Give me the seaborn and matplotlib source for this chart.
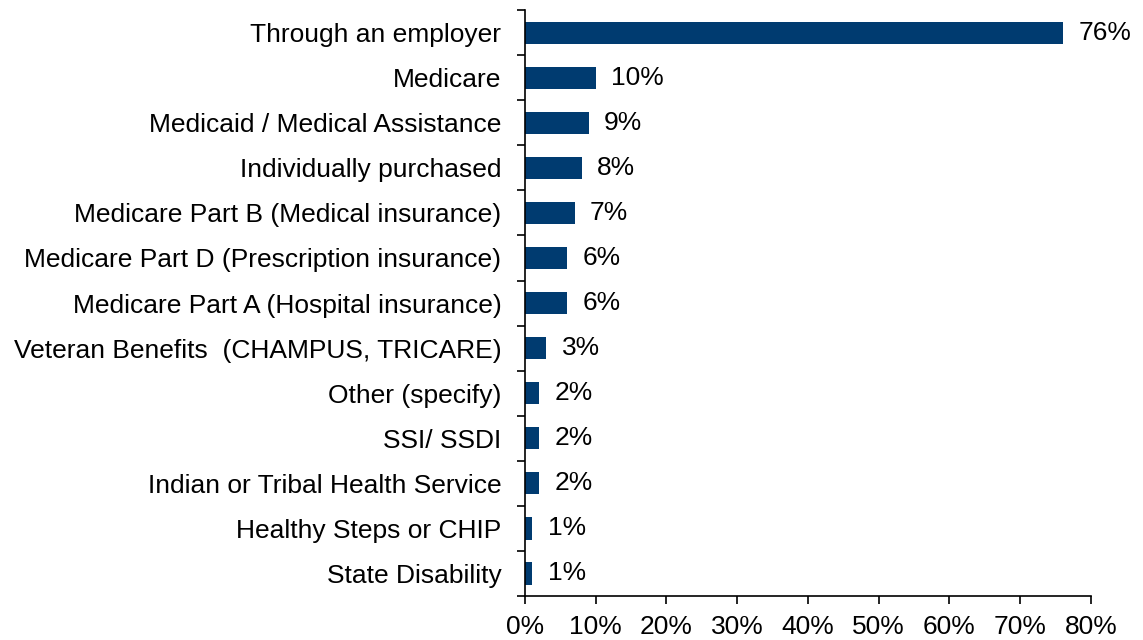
import numpy as np
import pandas as pd
import matplotlib
matplotlib.use("Agg")
import matplotlib.pyplot as plt
import seaborn as sns

categories = [
    "Through an employer",
    "Medicare",
    "Medicaid / Medical Assistance",
    "Individually purchased",
    "Medicare Part B (Medical insurance)",
    "Medicare Part D (Prescription insurance)",
    "Medicare Part A (Hospital insurance)",
    "Veteran Benefits  (CHAMPUS, TRICARE)",
    "Other (specify)",
    "SSI/ SSDI",
    "Indian or Tribal Health Service",
    "Healthy Steps or CHIP",
    "State Disability",
]
values = [76, 10, 9, 8, 7, 6, 6, 3, 2, 2, 2, 1, 1]
x_ticks = [0, 10, 20, 30, 40, 50, 60, 70, 80]
x_tick_labels = [f"{v}%" for v in x_ticks]

sns.set_theme(style="white")
plt.rcParams["font.family"] = ["Liberation Sans", "DejaVu Sans"]

df = pd.DataFrame({"category": categories, "value": values})

fig = plt.figure(figsize=(11.43, 6.40), dpi=100)
ax = fig.add_axes([0.4593, 0.069, 0.4952, 0.915])

bar_color = "#003B70"
sns.barplot(data=df, x="value", y="category", orient="h", color=bar_color,
            width=0.5, saturation=1, linewidth=0, ax=ax, order=categories)

ax.set_xlim(0, 80)
ax.set_ylim(len(categories) - 0.5, -0.5)
ax.set_xticks(x_ticks)
ax.set_xticklabels(x_tick_labels)
ax.set_xlabel("")
ax.set_ylabel("")

fs = 19
for i, v in enumerate(values):
    ax.text(v + 2.2, i, f"{v}%", va="center", ha="left", fontsize=fs, color="black")

# spines
for s in ["top", "right"]:
    ax.spines[s].set_visible(False)
for s in ["left", "bottom"]:
    ax.spines[s].set_color("black")
    ax.spines[s].set_linewidth(1.2)

# y ticks sit between categories
ax.set_yticks(np.arange(len(categories) + 1) - 0.5, minor=True)
ax.tick_params(axis="y", which="major", length=0, labelsize=fs, pad=17, labelcolor="black")
ax.tick_params(axis="y", which="minor", length=6, width=1.2, color="black", direction="out", left=True)
ax.tick_params(axis="x", which="major", length=6, width=1.2, color="black", direction="out",
               bottom=True, labelsize=fs, pad=8, labelcolor="black")

fig.savefig("out.png", dpi=100)
